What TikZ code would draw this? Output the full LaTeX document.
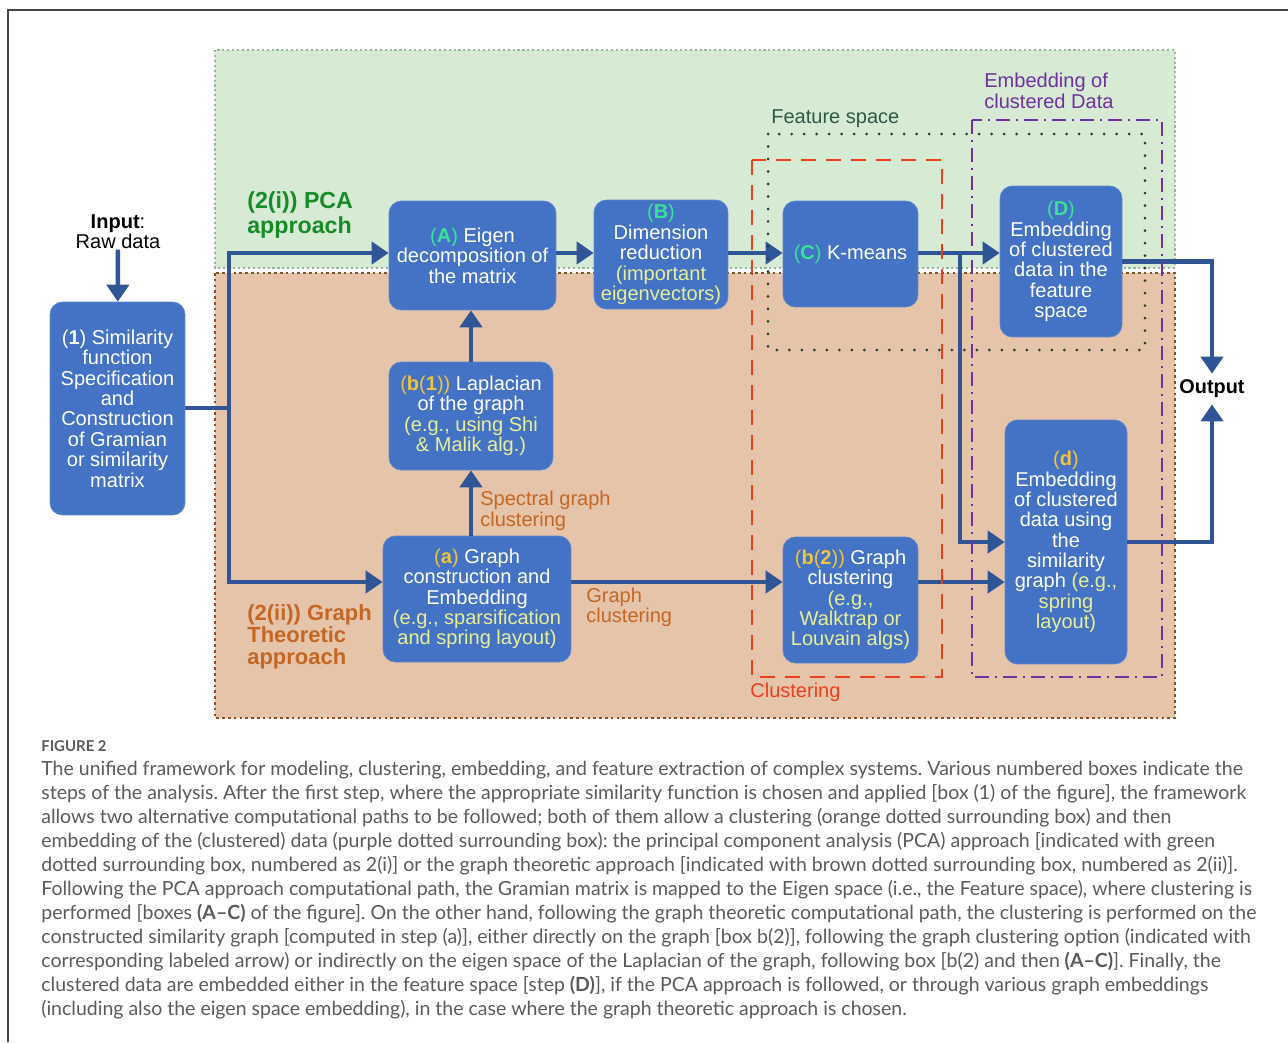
\documentclass[tikz,border=0pt]{standalone}
\usepackage{fontspec}
\setmainfont{Liberation Sans}
\newfontfamily\capfont{Lato}
\usetikzlibrary{arrows.meta,calc}
\definecolor{boxblue}{RGB}{68,114,196}
\definecolor{flowblue}{RGB}{47,85,151}
\definecolor{taggreen}{RGB}{56,226,150}
\definecolor{taggold}{RGB}{240,196,60}
\definecolor{noteyellow}{RGB}{232,240,150}
\definecolor{pcagreen}{RGB}{214,234,212}
\definecolor{pcaedge}{RGB}{150,185,150}
\definecolor{graphbrown}{RGB}{230,196,170}
\definecolor{graphedge}{RGB}{140,80,40}
\definecolor{pcatext}{RGB}{22,140,40}
\definecolor{graphtext}{RGB}{196,102,36}
\definecolor{featuretext}{RGB}{44,90,70}
\definecolor{featuredot}{RGB}{40,60,45}
\definecolor{clusterred}{RGB}{235,64,28}
\definecolor{embedpurple}{RGB}{112,48,160}
\definecolor{captiongray}{RGB}{90,90,90}
\definecolor{framegray}{RGB}{70,70,70}
\newcommand\gtag[1]{\textcolor{taggreen}{(\textbf{#1})}}
\newcommand\otag[1]{\textcolor{taggold}{#1}}
\newcommand\noteline[1]{\textcolor{noteyellow}{#1}}
\frenchspacing

\begin{document}
\begin{tikzpicture}[x=0.02cm,y=-0.02cm,
  stepbox/.style={fill=boxblue,draw=boxblue!85!white,rounded corners=7pt,text=white,
    align=center,inner sep=2pt,font=\fontsize{11.4pt}{11.6pt}\selectfont},
  flow/.style={draw=flowblue,line width=2.6pt,-{Triangle[length=0.34cm,width=0.44cm]}},
  link/.style={draw=flowblue,line width=2.6pt},
  lbl/.style={font=\fontsize{11.4pt}{11.6pt}\selectfont,align=left,inner sep=0pt}]
			%%%%% START %%%%%
			\useasboundingbox (0,0) rectangle (1288,1042);
			\draw[framegray,line width=1pt] (8,1042) -- (8,10) -- (1288,10);
			
			% approach areas
			\fill[pcagreen] (215,50) rectangle (1175,268);
			\draw[pcaedge,line width=1.2pt,dash pattern=on 1.2pt off 1.6pt] (215,50) rectangle (1175,268);
			\fill[graphbrown] (215,273) rectangle (1175,718);
			\draw[graphedge,line width=1.5pt,dash pattern=on 1.5pt off 1.8pt] (215,273) rectangle (1175,718);
			
			\coordinate (pcarow) at (0,253);
			\coordinate (graphrow) at (0,582);
			
			% steps
			\node[stepbox,minimum width=2.7cm,minimum height=4.26cm] (sim) at (117.5,408.5)
			  {(\textbf{1}) Similarity\\function\\Specification\\and\\Construction\\of Gramian\\or similarity\\matrix};
			\node[stepbox,minimum width=3.34cm,minimum height=2.18cm] (eigen) at (472.5,255.5)
			  {\gtag{A} Eigen\\decomposition of\\the matrix};
			\node[stepbox,minimum width=2.68cm,minimum height=2.18cm] (dimred) at (661,254.5)
			  {\gtag{B}\\Dimension\\reduction\\\noteline{(important}\\\noteline{eigenvectors)}};
			\node[stepbox,minimum width=2.7cm,minimum height=2.12cm] (kmeans) at (850.5,254)
			  {\gtag{C} K-means};
			\node[stepbox,minimum width=2.44cm,minimum height=3.02cm] (embfeat) at (1061,261.5)
			  {\gtag{D}\\Embedding\\of clustered\\data in the\\feature\\space};
			\node[stepbox,minimum width=3.28cm,minimum height=2.16cm] (laplace) at (471,416)
			  {\otag{(\textbf{b}(\textbf{1}))} Laplacian\\of the graph\\\noteline{(e.g., using Shi}\\\noteline{\& Malik alg.)}};
			\node[stepbox,minimum width=3.76cm,minimum height=2.52cm] (graphcon) at (477,599)
			  {\otag{(\textbf{a})} Graph\\construction and\\Embedding\\\noteline{(e.g., sparsification}\\\noteline{and spring layout)}};
			\node[stepbox,minimum width=2.7cm,minimum height=2.52cm] (graphclu) at (850.5,600)
			  {\otag{(\textbf{b}(\textbf{2}))} Graph\\clustering\\\noteline{(e.g.,}\\\noteline{Walktrap or}\\\noteline{Louvain algs)}};
			\node[stepbox,minimum width=2.44cm,minimum height=4.88cm] (embgraph) at (1066,542)
			  {\otag{(\textbf{d})}\\Embedding\\of clustered\\data using\\the\\similarity\\graph \noteline{(e.g.,}\\\noteline{spring}\\\noteline{layout)}};
			
			% labels
			\node[lbl,align=center] (inp) at (118,232) {\textbf{Input}:\\Raw data};
			\node[lbl,font=\bfseries\fontsize{11.3pt}{12pt}\selectfont] (out) at (1212,389) {Output};
			\node[lbl,text=featuretext,anchor=west] (featlabel) at (771,119) {Feature space};
			\node[lbl,text=embedpurple,anchor=west] (embedlabel) at (984,91) {Embedding of\\clustered Data};
			\node[lbl,text=clusterred,anchor=west] (clusterlabel) at (750,692) {Clustering};
			\node[lbl,text=graphtext,anchor=west] (speclabel) at (480,511) {Spectral graph\\clustering};
			\node[lbl,text=graphtext,anchor=west] (gclabel) at (586,607) {Graph\\clustering};
			\node[lbl,text=pcatext,font=\bfseries\fontsize{13.2pt}{14.7pt}\selectfont,anchor=west] (pcalabel) at (247,215) {(2(i)) PCA\\approach};
			\node[lbl,text=graphtext,font=\bfseries\fontsize{12.5pt}{12.5pt}\selectfont,anchor=west] (gtlabel) at (247,637) {(2(ii)) Graph\\Theoretic\\approach};
			
			% flows
			\coordinate (split) at (229,408);
			\coordinate (splitemb) at (960,253);
			\draw[flow] (inp) -- (sim);
			\draw[link] (sim.east |- split) -- (split);
			\draw[flow] (split) |- (eigen.west |- pcarow);
			\draw[flow] (split) |- (graphcon.west |- graphrow);
			\draw[flow] (eigen.east |- pcarow) -- (dimred.west |- pcarow);
			\draw[flow] (dimred.east |- pcarow) -- (kmeans.west |- pcarow);
			\draw[link] (kmeans.east |- pcarow) -- (splitemb);
			\draw[flow] (splitemb) -- (embfeat.west |- pcarow);
			\draw[flow] (splitemb) |- (embgraph.west);
			\draw[flow] (laplace.south |- graphcon.north) -- (laplace.south);
			\draw[flow] (laplace.north) -- (laplace.north |- eigen.south);
			\draw[flow] (graphcon.east |- graphrow) -- (graphclu.west |- graphrow);
			\draw[flow] (graphclu.east |- graphrow) -- (embgraph.west |- graphrow);
			\draw[flow] (embfeat.east) -| ([yshift=0.12cm]out.north);
			\draw[flow] (embgraph.east) -| ([yshift=-0.12cm]out.south);
			
			% surrounding boxes
			\draw[featuredot,line width=0.06cm,line cap=round,dash pattern=on 0pt off 0.25cm] (768,134) rectangle (1145,350);
			\draw[clusterred,line width=0.045cm,dash pattern=on 0.3cm off 0.2cm] (752,160) rectangle (942,677);
			\draw[embedpurple,line width=0.045cm,dash pattern=on 0.28cm off 0.12cm on 0.04cm off 0.12cm] (972,120) rectangle (1162,677);
			
			% caption
			\node[anchor=west,inner sep=0pt,text=captiongray,font=\capfont\bfseries\fontsize{8.5pt}{10pt}\selectfont] (figlabel) at (41,746) {FIGURE 2};
			\node[anchor=north west,inner sep=0pt,align=left,text=captiongray,font=\capfont\fontsize{11.1pt}{13.66pt}\selectfont] (caption) at (41,761)
			  {The unified framework for modeling, clustering, embedding, and feature extraction of complex systems. Various numbered boxes indicate the\\
			   steps of the analysis. After the first step, where the appropriate similarity function is chosen and applied [box (1) of the figure], the framework\\
			   allows two alternative computational paths to be followed; both of them allow a clustering (orange dotted surrounding box) and then\\
			   embedding of the (clustered) data (purple dotted surrounding box): the principal component analysis (PCA) approach [indicated with green\\
			   dotted surrounding box, numbered as 2(i)] or the graph theoretic approach [indicated with brown dotted surrounding box, numbered as 2(ii)].\\
			   Following the PCA approach computational path, the Gramian matrix is mapped to the Eigen space (i.e., the Feature space), where clustering is\\
			   performed [boxes \textbf{(A–C)} of the figure]. On the other hand, following the graph theoretic computational path, the clustering is performed on the\\
			   constructed similarity graph [computed in step (a)], either directly on the graph [box b(2)], following the graph clustering option (indicated with\\
			   corresponding labeled arrow) or indirectly on the eigen space of the Laplacian of the graph, following box [b(2) and then \textbf{(A–C)}]. Finally, the\\
			   clustered data are embedded either in the feature space [step \textbf{(D)}], if the PCA approach is followed, or through various graph embeddings\\
			   (including also the eigen space embedding), in the case where the graph theoretic approach is chosen.};
			%%%%% END %%%%%
\end{tikzpicture}
\end{document}
